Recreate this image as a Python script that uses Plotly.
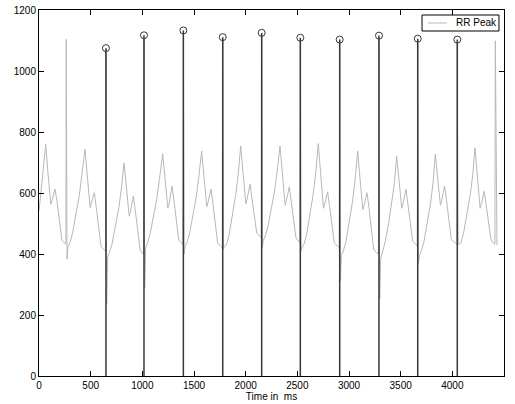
import plotly.graph_objects as go

# ECG samples (ms, amplitude), one row per beat
ecg_t = [
    0, 30, 65, 88, 115, 128, 155, 175, 200, 222, 244, 260,
    264, 271, 280, 299, 324, 359, 389, 414, 445, 467, 495, 507, 535, 553, 575, 600, 626, 644,
    648, 655, 664, 683, 708, 743, 773, 798, 823, 845, 873, 885, 913, 931, 953, 978, 994, 1012,
    1016, 1023, 1032, 1051, 1076, 1111, 1141, 1166, 1197, 1219, 1247, 1259, 1287, 1305, 1327, 1352, 1375, 1393,
    1397, 1404, 1413, 1432, 1457, 1492, 1522, 1547, 1574, 1596, 1624, 1636, 1664, 1682, 1704, 1729, 1756, 1774,
    1778, 1785, 1794, 1813, 1838, 1873, 1903, 1928, 1952, 1974, 2002, 2014, 2042, 2060, 2082, 2107, 2133, 2151,
    2155, 2162, 2171, 2190, 2215, 2250, 2280, 2305, 2332, 2354, 2382, 2394, 2422, 2440, 2462, 2487, 2507, 2525,
    2529, 2536, 2545, 2564, 2589, 2624, 2654, 2679, 2703, 2725, 2753, 2765, 2793, 2811, 2833, 2858, 2888, 2906,
    2910, 2917, 2926, 2945, 2970, 3005, 3035, 3060, 3084, 3106, 3134, 3146, 3174, 3192, 3214, 3239, 3268, 3286,
    3290, 3297, 3306, 3325, 3350, 3385, 3415, 3440, 3461, 3483, 3511, 3523, 3551, 3569, 3591, 3616, 3643, 3661,
    3665, 3672, 3681, 3700, 3725, 3760, 3790, 3815, 3835, 3857, 3885, 3897, 3925, 3943, 3965, 3990, 4026, 4044,
    4048, 4055, 4064, 4083, 4108, 4143, 4173, 4198, 4219, 4241, 4269, 4281, 4309, 4327, 4349, 4374, 4394, 4412,
    4416, 4424, 4432,
]
ecg_v = [
    541, 650, 759, 660, 563, 578, 613, 570, 500, 445, 437, 432,
    1104, 383, 422, 437, 467, 529, 590, 658, 744, 658, 552, 567, 601, 556, 500, 425, 415, 410,
    1070, 236, 390, 405, 435, 493, 552, 617, 699, 620, 524, 540, 590, 545, 480, 414, 404, 400,
    1110, 289, 420, 437, 467, 525, 583, 647, 729, 649, 551, 566, 623, 578, 510, 447, 437, 432,
    1125, 400, 425, 437, 467, 527, 587, 654, 738, 656, 555, 570, 613, 568, 500, 436, 426, 421,
    1105, 416, 425, 430, 460, 527, 592, 663, 754, 669, 565, 580, 629, 584, 525, 469, 459, 454,
    1120, 420, 445, 459, 489, 548, 607, 671, 754, 669, 560, 575, 620, 575, 510, 453, 443, 438,
    1100, 410, 420, 432, 462, 531, 597, 670, 762, 667, 550, 565, 604, 559, 495, 436, 426, 421,
    1095, 311, 395, 410, 440, 508, 574, 646, 738, 650, 545, 560, 601, 556, 490, 414, 404, 400,
    1110, 252, 383, 410, 440, 503, 566, 634, 721, 645, 550, 565, 612, 567, 500, 442, 432, 427,
    1100, 367, 395, 410, 440, 505, 568, 638, 727, 652, 560, 575, 623, 578, 510, 447, 437, 432,
    1095, 433, 432, 437, 467, 530, 593, 661, 748, 659, 550, 565, 606, 561, 500, 447, 437, 432,
    1099, 700, 430,
]

# detected R peaks
peak_t = [648, 1016, 1397, 1778, 2155, 2529, 2910, 3290, 3665, 4048]
peak_v = [1075, 1117, 1133, 1111, 1125, 1109, 1103, 1116, 1106, 1103]

x_ticks = [0, 500, 1000, 1500, 2000, 2500, 3000, 3500, 4000, 4500]
y_ticks = [0, 200, 400, 600, 800, 1000, 1200]

FONT = 'Liberation Sans, Arial'
ECG_COLOR = '#b8b8b8'
STEM_COLOR = '#383838'

# stems: one segment per peak, from 0 up to the peak
stem_x, stem_y = [], []
for t, v in zip(peak_t, peak_v):
    stem_x += [t, t, None]
    stem_y += [0, v, None]

fig = go.Figure()
fig.add_trace(go.Scatter(
    x=ecg_t, y=ecg_v, mode='lines', name='RR Peak',
    line=dict(color=ECG_COLOR, width=1)
))
fig.add_trace(go.Scatter(
    x=stem_x, y=stem_y, mode='lines',
    line=dict(color=STEM_COLOR, width=1.5)
))
fig.add_trace(go.Scatter(
    x=peak_t, y=peak_v, mode='markers',
    marker=dict(symbol='circle-open', size=7, color=STEM_COLOR, line=dict(width=1))
))

axis_style = dict(
    showgrid=False, zeroline=False, showline=True, linecolor='black', linewidth=1,
    mirror='ticks', ticks='inside', ticklen=5, tickcolor='black', automargin=False,
    tickfont=dict(family=FONT, size=10, color='black')
)
fig.update_xaxes(range=[0, 4500], tickvals=x_ticks, **axis_style,
                 title=dict(text='Time in\u00a0 ms', standoff=2,
                            font=dict(family=FONT, size=10, color='black')))
fig.update_yaxes(range=[0, 1200], tickvals=y_ticks, **axis_style)

# MATLAB-style compact legend box (top right, inside the axes)
fig.add_shape(type='rect', xref='paper', yref='paper',
              x0=0.8237, x1=0.9892, y0=0.9426, y1=0.9863,
              line=dict(color='black', width=1), fillcolor='white', layer='above')
fig.add_shape(type='line', xref='paper', yref='paper',
              x0=0.837, x1=0.877, y0=0.9645, y1=0.9645,
              line=dict(color=ECG_COLOR, width=1), layer='above')
fig.add_annotation(text='RR Peak', xref='paper', yref='paper',
                   x=0.892, y=0.9645, xanchor='left', yanchor='middle', showarrow=False,
                   font=dict(family=FONT, size=10, color='black'))

fig.update_layout(
    width=515, height=404,
    margin=dict(l=39, r=11, t=10, b=28),
    paper_bgcolor='white', plot_bgcolor='white',
    showlegend=False, hovermode=False,
)

# drop the default page margin so the figure sits at the window's corner
fig.write_html("out.html", config={'displayModeBar': False},
               post_script="document.body.style.margin='0';")
